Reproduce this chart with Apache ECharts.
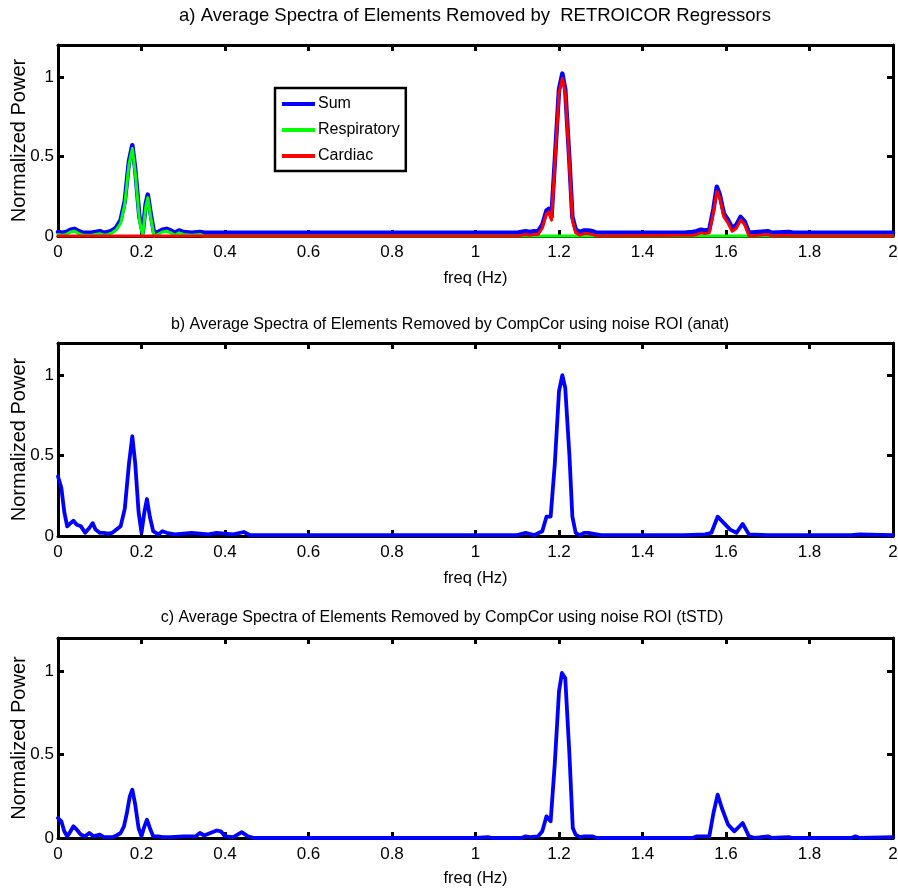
<!DOCTYPE html>
<html>
<head>
<meta charset="utf-8">
<script src="https://cdn.jsdelivr.net/npm/echarts@6/dist/echarts.min.js"></script>
<style>
  html, body { margin: 0; padding: 0; background: #fff; }
  #chart { width: 898px; height: 888px; }
</style>
</head>
<body>
<div id="chart"></div>
<script>
// Panel titles and axis text
const panelTitles = [
  'a) Average Spectra of Elements Removed by  RETROICOR Regressors',
  'b) Average Spectra of Elements Removed by CompCor using noise ROI (anat)',
  'c) Average Spectra of Elements Removed by CompCor using noise ROI (tSTD)'
];
const xAxisName = 'freq (Hz)';
const yAxisName = 'Normalized Power';
const legendNames = ['Sum', 'Respiratory', 'Cardiac'];
const yTickLabels = ['0', '0.5', '1'];

// a) RETROICOR regressors: [frequency (Hz), normalized power]
const retroSum = [
  [0,0.025],[0.01,0.02],[0.02,0.025],[0.03,0.04],[0.04,0.045],[0.05,0.03],[0.06,0.02],[0.08,0.02],
  [0.1,0.03],[0.11,0.02],[0.12,0.025],[0.13,0.035],[0.14,0.055],[0.15,0.1],[0.16,0.22],[0.17,0.47],
  [0.178,0.57],[0.185,0.42],[0.195,0.12],[0.203,0.02],[0.21,0.2],[0.215,0.26],[0.222,0.14],[0.23,0.02],
  [0.24,0.025],[0.25,0.04],[0.26,0.045],[0.27,0.035],[0.28,0.02],[0.29,0.035],[0.3,0.025],[0.32,0.02],
  [0.34,0.025],[0.35,0.02],[0.6,0.02],[0.9,0.02],[1.1,0.02],[1.12,0.03],[1.13,0.025],[1.14,0.03],
  [1.15,0.03],[1.16,0.07],[1.17,0.16],[1.175,0.17],[1.182,0.12],[1.19,0.47],[1.2,0.92],[1.208,1.02],
  [1.215,0.92],[1.225,0.47],[1.232,0.12],[1.24,0.04],[1.25,0.025],[1.26,0.035],[1.27,0.035],[1.28,0.03],
  [1.29,0.02],[1.5,0.02],[1.52,0.025],[1.53,0.03],[1.54,0.04],[1.55,0.035],[1.56,0.04],[1.57,0.17],
  [1.578,0.31],[1.585,0.26],[1.595,0.14],[1.605,0.1],[1.615,0.05],[1.625,0.07],[1.635,0.12],[1.645,0.09],
  [1.655,0.02],[1.7,0.03],[1.71,0.02],[1.75,0.025],[1.76,0.02],[2,0.02]
];
const retroRespiratory = [
  [0,0.01],[0.01,0.005],[0.02,0.01],[0.03,0.025],[0.04,0.03],[0.05,0.015],[0.06,0.005],[0.08,0.005],
  [0.1,0.015],[0.11,0.005],[0.12,0.01],[0.13,0.02],[0.14,0.04],[0.15,0.08],[0.16,0.2],[0.17,0.45],
  [0.178,0.55],[0.185,0.4],[0.195,0.1],[0.203,0],[0.21,0.18],[0.215,0.24],[0.222,0.12],[0.23,0],
  [0.24,0.01],[0.25,0.025],[0.26,0.03],[0.27,0.02],[0.28,0.005],[0.29,0.02],[0.3,0.01],[0.32,0.005],
  [0.34,0.01],[0.35,0],[2,0]
];
const retroCardiac = [
  [0,0],[1.1,0],[1.12,0.01],[1.13,0.005],[1.14,0.01],[1.15,0.01],[1.16,0.05],[1.17,0.14],[1.175,0.15],
  [1.182,0.1],[1.19,0.45],[1.2,0.9],[1.208,0.99],[1.215,0.9],[1.225,0.45],[1.232,0.1],[1.24,0.02],
  [1.25,0.005],[1.26,0.015],[1.27,0.015],[1.28,0.01],[1.29,0],[1.52,0.005],[1.53,0.01],[1.54,0.02],
  [1.55,0.015],[1.56,0.02],[1.57,0.15],[1.578,0.28],[1.585,0.24],[1.595,0.12],[1.605,0.08],[1.615,0.03],
  [1.625,0.05],[1.635,0.1],[1.645,0.07],[1.655,0],[1.7,0.01],[1.71,0],[1.75,0.005],[1.76,0],[2,0]
];

// b) CompCor, anatomical noise ROI
const compCorAnat = [
  [0,0.37],[0.008,0.3],[0.015,0.15],[0.022,0.06],[0.03,0.08],[0.037,0.095],[0.045,0.07],[0.055,0.06],
  [0.065,0.02],[0.075,0.05],[0.083,0.08],[0.09,0.04],[0.1,0.02],[0.11,0.02],[0.12,0.015],[0.13,0.02],
  [0.14,0.04],[0.15,0.06],[0.16,0.17],[0.17,0.45],[0.178,0.62],[0.185,0.45],[0.193,0.15],[0.2,0.02],
  [0.207,0.15],[0.213,0.23],[0.22,0.12],[0.228,0.03],[0.24,0.01],[0.25,0.03],[0.26,0.02],[0.28,0.01],
  [0.3,0.015],[0.32,0.02],[0.34,0.015],[0.36,0.01],[0.38,0.02],[0.4,0.015],[0.42,0.01],[0.445,0.025],
  [0.46,0.005],[0.7,0.005],[1.1,0.005],[1.12,0.02],[1.14,0.005],[1.16,0.03],[1.17,0.12],[1.18,0.12],
  [1.19,0.45],[1.2,0.9],[1.208,1.0],[1.215,0.92],[1.225,0.5],[1.232,0.12],[1.24,0.02],[1.25,0.005],
  [1.26,0.02],[1.27,0.02],[1.28,0.015],[1.3,0.005],[1.5,0.005],[1.55,0.01],[1.565,0.02],[1.58,0.12],
  [1.595,0.08],[1.61,0.04],[1.625,0.02],[1.64,0.075],[1.655,0.01],[1.7,0.005],[1.9,0.005],[1.92,0.01],[2,0.005]
];

// c) CompCor, temporal standard deviation noise ROI
const compCorTstd = [
  [0,0.12],[0.008,0.1],[0.015,0.04],[0.022,0.01],[0.03,0.04],[0.037,0.07],[0.045,0.05],[0.055,0.02],
  [0.065,0.01],[0.075,0.03],[0.085,0.01],[0.1,0.02],[0.11,0.005],[0.13,0.005],[0.14,0.015],[0.15,0.03],
  [0.158,0.07],[0.165,0.15],[0.172,0.25],[0.178,0.29],[0.185,0.2],[0.193,0.06],[0.2,0.01],[0.207,0.07],
  [0.213,0.11],[0.22,0.06],[0.228,0.01],[0.24,0.01],[0.25,0.005],[0.27,0.005],[0.3,0.01],[0.33,0.01],
  [0.34,0.03],[0.35,0.015],[0.365,0.03],[0.38,0.045],[0.39,0.04],[0.4,0.01],[0.42,0.005],[0.44,0.035],
  [0.455,0.01],[0.47,0],[1.0,0],[1.03,0.005],[1.04,0],[1.11,0],[1.12,0.01],[1.13,0.005],[1.15,0.01],
  [1.16,0.04],[1.17,0.13],[1.18,0.1],[1.19,0.45],[1.2,0.88],[1.207,0.99],[1.215,0.96],[1.225,0.5],
  [1.233,0.06],[1.24,0.02],[1.25,0.005],[1.26,0.01],[1.28,0.01],[1.29,0],[1.52,0],[1.53,0.01],[1.56,0.01],
  [1.57,0.15],[1.58,0.26],[1.59,0.18],[1.605,0.08],[1.62,0.04],[1.64,0.09],[1.655,0.01],[1.67,0],
  [1.7,0.01],[1.71,0],[1.75,0.005],[1.76,0],[1.9,0],[1.91,0.01],[1.92,0],[2,0.005]
];

const FONT = '"Liberation Sans", Arial, Helvetica, sans-serif';
const BLACK = '#000';

// Plot boxes, one per panel (pixels)
const grids = [
  { left: 58, width: 835, top: 45, height: 191, outerBoundsMode: 'none' },
  { left: 58, width: 835, top: 343, height: 193, outerBoundsMode: 'none' },
  { left: 58, width: 835, top: 638, height: 200, outerBoundsMode: 'none' }
];
const titleX = [475, 450, 442];
const titleY = [16, 325, 618];
const titleSize = [18.5, 16, 16];
const xNameGap = [34, 34, 32];

const axisLine = { onZero: false, lineStyle: { color: BLACK, width: 3 } };
const axisTick = { inside: true, length: 6, lineStyle: { color: BLACK, width: 3 } };

const xAxes = [];
const yAxes = [];
grids.forEach((g, i) => {
  xAxes.push({
    gridIndex: i, type: 'value', min: 0, max: 2, interval: 0.2, position: 'bottom',
    axisLine, axisTick, splitLine: { show: false },
    axisLabel: {
      color: BLACK, fontFamily: FONT, fontSize: 17, margin: 8,
      formatter: v => String(+v.toFixed(1))
    },
    name: xAxisName, nameLocation: 'middle', nameGap: xNameGap[i], nameMoveOverlap: false,
    nameTextStyle: { color: BLACK, fontFamily: FONT, fontSize: 16.5 }
  });
  xAxes.push({
    gridIndex: i, type: 'value', min: 0, max: 2, interval: 0.2, position: 'top',
    axisLine, axisTick, splitLine: { show: false }, axisLabel: { show: false }
  });
  yAxes.push({
    gridIndex: i, type: 'value', min: 0, max: 1.2, interval: 0.5, position: 'left',
    axisLine, axisTick, splitLine: { show: false },
    axisLabel: {
      color: BLACK, fontFamily: FONT, fontSize: 17, margin: 4,
      formatter: v => {
        const k = Math.round(v / 0.5);
        return Math.abs(v - k * 0.5) < 1e-6 && k < yTickLabels.length ? yTickLabels[k] : '';
      }
    },
    name: yAxisName, nameLocation: 'middle', nameGap: 29, nameRotate: 90, nameMoveOverlap: false,
    nameTextStyle: { color: BLACK, fontFamily: FONT, fontSize: 20 }
  });
  yAxes.push({
    gridIndex: i, type: 'value', min: 0, max: 1.2, interval: 0.5, position: 'right',
    axisLine, axisTick, splitLine: { show: false }, axisLabel: { show: false }
  });
});

function lineSeries(name, data, panel, color, width) {
  return {
    name, type: 'line', data,
    xAxisIndex: panel * 2, yAxisIndex: panel * 2,
    showSymbol: false, symbol: 'none', clip: false,
    lineStyle: { color, width, join: 'round', cap: 'round' },
    itemStyle: { color },
    emphasis: { disabled: true }
  };
}

const option = {
  animation: false,
  backgroundColor: '#fff',
  grid: grids,
  xAxis: xAxes,
  yAxis: yAxes,
  legend: {
    data: legendNames,
    orient: 'vertical',
    left: 275, top: 88,
    icon: 'rect', itemWidth: 33, itemHeight: 4, itemGap: 8,
    backgroundColor: '#fff',
    borderColor: BLACK, borderWidth: 2.5, borderRadius: 0,
    padding: [7, 6, 6, 7],
    textStyle: { color: BLACK, fontFamily: FONT, fontSize: 16, lineHeight: 18, padding: [0, 0, 0, -2] },
    selectedMode: false
  },
  graphic: panelTitles.map((t, i) => ({
    type: 'text', x: titleX[i], y: titleY[i],
    style: {
      text: t, fill: BLACK, font: titleSize[i] + 'px ' + FONT,
      textAlign: 'center', textVerticalAlign: 'middle'
    }
  })),
  series: [
    lineSeries('Sum', retroSum, 0, '#0000ff', 4.5),
    lineSeries('Respiratory', retroRespiratory, 0, '#00ff00', 3),
    lineSeries('Cardiac', retroCardiac, 0, '#ff0000', 3),
    lineSeries('anat', compCorAnat, 1, '#0000ff', 3.8),
    lineSeries('tSTD', compCorTstd, 2, '#0000ff', 3.8)
  ]
};

const chart = echarts.init(document.getElementById('chart'), null, { renderer: 'canvas' });
chart.setOption(option);
</script>
</body>
</html>
